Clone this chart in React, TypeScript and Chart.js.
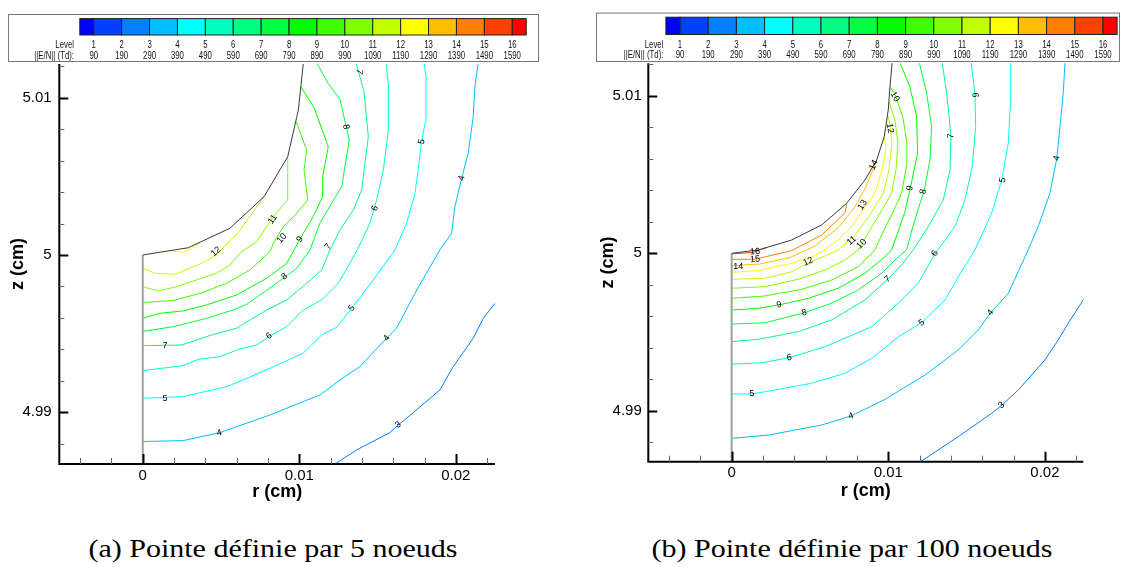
import React, { useEffect, useRef } from "react";
import { Chart, registerables } from "chart.js";
Chart.register(...registerables);

// ---------- legend ----------
const levelIds = ["1","2","3","4","5","6","7","8","9","10","11","12","13","14","15","16"];
const levelTd = ["90","190","290","390","490","590","690","790","890","990","1090","1190","1290","1390","1490","1590"];
const legendColors = ["#0000ff","#0040ff","#0080ff","#00bfff","#00ffff","#00ffbf","#00ff80","#00ff40","#00ff00","#40ff00","#80ff00","#bfff00","#ffff00","#ffbf00","#ff8000","#ff4000","#ff0000"];
const levelLineColors = ["","#0000ff","#0040ff","#0080ff","#00bfff","#00ffff","#00ffbf","#00ff80","#00ff40","#00ff00","#40ff00","#80ff00","#bfff00","#ffff00","#ffbf00","#ff8000","#ff4000"];

// ---------- axes ----------
const xLabelValues = [0, 0.01, 0.02];
const xLabelTexts = ["0", "0.01", "0.02"];
const yLabelValues = [4.99, 5, 5.01];
const yLabelTexts = ["4.99", "5", "5.01"];
const minorStep = 0.002;
const axisR = [0, 0];
const axisZ = [5.0, 4.986];

// ---------- panel (a): 5 nodes ----------
const bndAr = [0, 0.00291, 0.00557, 0.00775, 0.00926, 0.00994, 0.01026];
const bndAz = [5.0, 5.00046, 5.0017, 5.00371, 5.00625, 5.00922, 5.01223];
const a13r = [0.00165, 0.00259, 0.00302, 0.00366];
const a13z = [5.00026, 5.00017, 5.00036, 5.00078];
const a12r = [0, 0.00079, 0.00206, 0.00387, 0.00468, 0.0061, 0.00775];
const a12z = [4.99915, 4.99883, 4.99877, 4.99951, 5.0, 5.00142, 5.00371];
const a11r = [0, 0.001, 0.00217, 0.00355, 0.00472, 0.00557, 0.0062, 0.00728, 0.00834, 0.00926, 0.00926];
const a11z = [4.99798, 4.99771, 4.99798, 4.99845, 4.99883, 4.99936, 5.00011, 5.00085, 5.00244, 5.0035, 5.00625];
const a10r = [0, 0.00195, 0.00366, 0.00536, 0.00685, 0.00813, 0.00834, 0.00898, 0.00983, 0.01054, 0.0103, 0.01047, 0.00979];
const a10z = [4.99697, 4.9971, 4.99756, 4.9982, 4.99905, 5.00021, 5.00074, 5.0018, 5.00265, 5.0035, 5.00541, 5.00668, 5.0085];
const a9r = [0, 0.0011, 0.00259, 0.00408, 0.006, 0.00792, 0.0092, 0.01025, 0.01089, 0.01149, 0.01149, 0.01185, 0.01096, 0.01011];
const a9z = [4.99597, 4.99629, 4.99644, 4.99682, 4.99746, 4.99852, 4.99947, 5.00138, 5.00244, 5.00371, 5.00498, 5.00689, 5.00933, 5.0107];
const a8r = [0, 0.00195, 0.00408, 0.00578, 0.00664, 0.00855, 0.00983, 0.01068, 0.01132, 0.01206, 0.01271, 0.01319, 0.0126, 0.01185, 0.01111];
const a8z = [4.99513, 4.99544, 4.99597, 4.9965, 4.99686, 4.9982, 4.99915, 5.00032, 5.00202, 5.00329, 5.00435, 5.00732, 5.0099, 5.0109, 5.01223];
const a7r = [0, 0.00249, 0.0044, 0.006, 0.00685, 0.00792, 0.0092, 0.01047, 0.01143, 0.01196, 0.0126, 0.01345, 0.01398, 0.01441, 0.01413, 0.01362];
const a7z = [4.99423, 4.99427, 4.99491, 4.99534, 4.99586, 4.9965, 4.99714, 4.9982, 4.99905, 5.00032, 5.00159, 5.00286, 5.00414, 5.00752, 5.01039, 5.01223];
const a6r = [0, 0.00259, 0.00355, 0.00493, 0.0062, 0.00728, 0.00813, 0.0092, 0.01025, 0.01143, 0.01249, 0.01323, 0.01375, 0.01451, 0.01494, 0.01537, 0.01569, 0.01569, 0.01554];
const a6z = [4.99264, 4.99296, 4.99336, 4.99353, 4.99402, 4.99427, 4.99485, 4.99544, 4.9965, 4.99714, 4.9982, 4.99947, 5.00042, 5.00202, 5.0035, 5.00541, 5.00795, 5.01081, 5.01223];
const a5r = [0, 0.00259, 0.00536, 0.00642, 0.00813, 0.01025, 0.01143, 0.01239, 0.01335, 0.01473, 0.01611, 0.01686, 0.01739, 0.01782, 0.01803, 0.01809, 0.01796];
const a5z = [4.99088, 4.99099, 4.99162, 4.99205, 4.99279, 4.99375, 4.99491, 4.9954, 4.99661, 4.99841, 5.00032, 5.00202, 5.00392, 5.00721, 5.00838, 5.01134, 5.01223];
const a4r = [0, 0.00259, 0.00493, 0.00813, 0.01025, 0.01132, 0.0126, 0.01387, 0.01557, 0.01621, 0.0175, 0.01898, 0.01973, 0.01994, 0.02037, 0.02079, 0.02111, 0.02122, 0.02143];
const a4z = [4.98813, 4.98819, 4.9887, 4.98982, 4.99067, 4.99109, 4.99205, 4.9929, 4.9947, 4.99534, 4.99777, 5.00032, 5.00138, 5.00307, 5.00487, 5.00649, 5.0088, 5.01071, 5.01223];
const a3r = [0.01205, 0.01367, 0.01579, 0.01632, 0.01686, 0.01898, 0.01983, 0.02111, 0.02175, 0.0225, 0.0227];
const a3z = [4.98655, 4.9876, 4.9887, 4.98919, 4.98961, 4.99141, 4.9929, 4.9947, 4.99597, 4.99693, 4.9973];
const aLabT = ["12","11","10","9","7","8","7","5","4","6","7","5","4","6","8","5","4","3"];
const aLabR = [0.00468, 0.00829, 0.00888, 0.01004, 0.01185, 0.01298, 0.01383, 0.01782, 0.02037, 0.01483, 0.00142, 0.00142, 0.00489, 0.00808, 0.00904, 0.01335, 0.01558, 0.01632];
const aLabZ = [5.00021, 5.00227, 5.00106, 5.001, 5.00053, 5.00816, 5.01166, 5.00721, 5.00488, 5.00297, 4.99423, 4.99088, 4.98868, 4.99485, 4.99862, 4.99661, 4.9947, 4.98919];
const aLabA = [-40, -55, -50, -55, -55, 85, 100, -80, -75, -70, 0, 0, -15, -35, -35, -50, -50, -35];

// ---------- panel (b): 100 nodes ----------
const bndBr = [0, 0.0017, 0.00383, 0.00575, 0.00734, 0.00851, 0.00926, 0.00974, 0.01, 0.01011, 0.01025];
const bndBz = [5.0, 5.00021, 5.00084, 5.0018, 5.00317, 5.00465, 5.00592, 5.0074, 5.0091, 5.01058, 5.01217];
const b16r = [0, 0.0013, 0.0022];
const b16z = [4.99996, 5.00005, 5.00035];
const b15r = [0, 0.00149, 0.00383, 0.00575, 0.00723, 0.00736];
const b15z = [4.99962, 4.99962, 5.00017, 5.00116, 5.00256, 5.00313];
const b14r = [0, 0.00181, 0.00372, 0.00532, 0.00679, 0.00787, 0.00857, 0.00896, 0.00924];
const b14z = [4.99921, 4.99932, 4.99973, 5.00046, 5.00161, 5.00294, 5.00421, 5.00516, 5.00586];
const b13r = [0, 0.0017, 0.00383, 0.00511, 0.00596, 0.00691, 0.00766, 0.0083, 0.00915, 0.0096, 0.00985, 0.00975];
const b13z = [4.99879, 4.9989, 4.99937, 4.99978, 5.00021, 5.00097, 5.00169, 5.00262, 5.00381, 5.00529, 5.00656, 5.00738];
const b12r = [0, 0.00213, 0.00383, 0.00489, 0.00596, 0.00681, 0.00787, 0.0087, 0.00968, 0.01004, 0.01023, 0.01011, 0.00998];
const b12z = [4.99835, 4.99841, 4.99883, 4.9994, 4.99983, 5.00021, 5.00116, 5.00224, 5.00381, 5.00529, 5.007, 5.00815, 5.00878];
const b11r = [0, 0.00213, 0.00425, 0.00596, 0.00723, 0.00808, 0.00883, 0.0096, 0.01021, 0.01049, 0.01062, 0.01042, 0.01017, 0.01007];
const b11z = [4.99778, 4.99788, 4.99835, 4.99894, 4.99957, 5.00021, 5.00148, 5.00275, 5.00381, 5.00529, 5.007, 5.00846, 5.00923, 5.00961];
const b10r = [0, 0.00213, 0.00447, 0.00638, 0.00808, 0.00915, 0.00966, 0.0103, 0.01085, 0.01117, 0.01119, 0.01094, 0.01047, 0.01011];
const b10z = [4.99714, 4.99729, 4.99771, 4.9983, 4.99915, 5.00021, 5.00135, 5.00262, 5.00381, 5.00561, 5.007, 5.00859, 5.00999, 5.01058];
const b9r = [0, 0.0017, 0.00302, 0.00489, 0.00681, 0.00851, 0.00979, 0.01021, 0.01062, 0.01106, 0.01138, 0.01187, 0.01181, 0.01138, 0.01074];
const b9z = [4.9964, 4.99651, 4.99672, 4.99714, 4.99778, 4.99873, 4.99978, 5.00021, 5.00135, 5.00262, 5.00402, 5.00635, 5.00867, 5.01058, 5.0121];
const b8r = [0, 0.00213, 0.00464, 0.00638, 0.00808, 0.00958, 0.01064, 0.01117, 0.01151, 0.01189, 0.0123, 0.01266, 0.01277, 0.01245, 0.01198];
const b8z = [4.99551, 4.99559, 4.99623, 4.99683, 4.99767, 4.99873, 4.99978, 5.00021, 5.00148, 5.00275, 5.00402, 5.00592, 5.00804, 5.01016, 5.0121];
const b7r = [0, 0.0017, 0.00425, 0.00638, 0.00851, 0.00996, 0.01085, 0.01159, 0.01255, 0.01351, 0.01394, 0.014, 0.01373, 0.01344];
const b7z = [4.99439, 4.99454, 4.99502, 4.99577, 4.99703, 4.99835, 4.99926, 5.00021, 5.00169, 5.00338, 5.00529, 5.00745, 5.01016, 5.0121];
const b6r = [0, 0.00192, 0.00368, 0.00596, 0.00894, 0.01064, 0.01191, 0.01298, 0.01425, 0.01489, 0.01536, 0.01558, 0.01553, 0.01528];
const b6z = [4.99297, 4.99305, 4.99337, 4.99407, 4.99534, 4.99683, 4.9981, 4.99996, 5.00169, 5.00338, 5.0055, 5.00804, 5.01016, 5.0121];
const b5r = [0, 0.00128, 0.00276, 0.00511, 0.00723, 0.00894, 0.01064, 0.01213, 0.01362, 0.01447, 0.01553, 0.0166, 0.01724, 0.01766, 0.01783, 0.01781];
const b5z = [4.99107, 4.99107, 4.99132, 4.99175, 4.99238, 4.99333, 4.9947, 4.99559, 4.99703, 4.99851, 5.00021, 5.00254, 5.00465, 5.00698, 5.01016, 5.0121];
const b4r = [0, 0.00234, 0.00575, 0.00762, 0.00979, 0.01234, 0.01447, 0.01574, 0.01653, 0.01766, 0.01893, 0.01957, 0.02032, 0.02075, 0.02096, 0.02117, 0.02128];
const b4z = [4.98825, 4.98846, 4.9891, 4.98967, 4.99073, 4.99227, 4.99386, 4.99513, 4.99623, 4.99746, 5.00021, 5.00169, 5.00381, 5.00597, 5.00804, 5.01016, 5.0121];
const b3r = [0.01195, 0.01447, 0.0166, 0.01724, 0.0183, 0.02, 0.02085, 0.02149, 0.02244, 0.0227];
const b3z = [4.9867, 4.98836, 4.98984, 4.99035, 4.99132, 4.99323, 4.9945, 4.99556, 4.99703, 4.9974];
const bLabT = ["16","15","14","12","14","13","12","10","11","10","9","8","7","6","5","4","6","9","8","7","6","5","5","4","4","3"];
const bLabR = [0.00149, 0.00149, 0.00042, 0.00489, 0.00908, 0.00836, 0.01011, 0.01042, 0.00766, 0.0083, 0.01138, 0.01223, 0.014, 0.01553, 0.0173, 0.02075, 0.01298, 0.00302, 0.00463, 0.00996, 0.00368, 0.00128, 0.01213, 0.00762, 0.01653, 0.01724];
const bLabZ = [5.0001, 4.99962, 4.99919, 4.99947, 5.00561, 5.00307, 5.00794, 5.00994, 5.0008, 5.00059, 5.00413, 5.00391, 5.00745, 5.01005, 5.00465, 5.00603, 5.0, 4.99672, 4.99623, 4.99835, 4.99337, 4.99107, 4.99559, 4.98967, 4.99623, 4.99035];
const bLabA = [-5, -5, 0, -25, -65, -55, 80, 60, -40, -45, -80, -80, -85, 95, -80, -75, -60, -10, -15, -40, -10, 0, -35, -20, -50, -40];

const contoursA = [
  { level: 3, r: a3r, z: a3z }, { level: 4, r: a4r, z: a4z }, { level: 5, r: a5r, z: a5z },
  { level: 6, r: a6r, z: a6z }, { level: 7, r: a7r, z: a7z }, { level: 8, r: a8r, z: a8z },
  { level: 9, r: a9r, z: a9z }, { level: 10, r: a10r, z: a10z }, { level: 11, r: a11r, z: a11z },
  { level: 12, r: a12r, z: a12z }, { level: 13, r: a13r, z: a13z },
];
const contoursB = [
  { level: 3, r: b3r, z: b3z }, { level: 4, r: b4r, z: b4z }, { level: 5, r: b5r, z: b5z },
  { level: 6, r: b6r, z: b6z }, { level: 7, r: b7r, z: b7z }, { level: 8, r: b8r, z: b8z },
  { level: 9, r: b9r, z: b9z }, { level: 10, r: b10r, z: b10z }, { level: 11, r: b11r, z: b11z },
  { level: 12, r: b12r, z: b12z }, { level: 13, r: b13r, z: b13z }, { level: 14, r: b14r, z: b14z },
  { level: 15, r: b15r, z: b15z }, { level: 16, r: b16r, z: b16z },
];

const FONT = "Liberation Sans";

const panelA = {
  left: 0, width: 560, height: 515,
  pad: { left: 0, right: 65, top: 64, bottom: 0 },
  yWidth: 59.3, xHeight: 51,
  xMin: -0.00533, xMax: 0.0225, yMin: 4.9867, yMax: 5.01215,
  yTickPad: 7.6, xTickPad: 2.5, xTitlePad: 11.7, yTitlePad: 7.5,
  legend: { x0: 8, x1: 538, y0: 14, y1: 61, barX0: 79.8, step: 27.9, barY0: 18.6, barY1: 35, textRight: 74, levelY: 45.7, enY: 56 },
  bndR: bndAr, bndZ: bndAz, contours: contoursA,
  labT: aLabT, labR: aLabR, labZ: aLabZ, labA: aLabA,
};
const panelB = {
  left: 560, width: 563, height: 515,
  pad: { left: 0, right: 39.7, top: 63.3, bottom: 0 },
  yWidth: 88.3, xHeight: 53.3,
  xMin: -0.00532, xMax: 0.02245, yMin: 4.98677, yMax: 5.01206,
  yTickPad: 6.5, xTickPad: 2, xTitlePad: 13.4, yTitlePad: 37.7,
  legend: { x0: 36, x1: 559, y0: 12.6, y1: 61, barX0: 105.9, step: 28.2, barY0: 17.2, barY1: 34.5, textRight: 103.4, levelY: 44.9, enY: 55.7 },
  bndR: bndBr, bndZ: bndBz, contours: contoursB,
  labT: bLabT, labR: bLabR, labZ: bLabZ, labA: bLabA,
};

const near = (a: number, b: number) => Math.abs(a - b) < 1e-9;

function framePlugin(p: any) {
  return {
    id: "frame",
    afterDatasetsDraw(chart: any) {
      const { ctx, chartArea: ca, scales } = chart;
      const xs = scales.x, ys = scales.y;
      ctx.save();
      // contour labels
      ctx.font = `9px "${FONT}"`;
      ctx.fillStyle = "#000";
      ctx.textAlign = "center";
      ctx.textBaseline = "middle";
      p.labT.forEach((t: string, i: number) => {
        const px = xs.getPixelForValue(p.labR[i]);
        const py = ys.getPixelForValue(p.labZ[i]);
        ctx.save();
        ctx.translate(px, py);
        ctx.rotate((p.labA[i] * Math.PI) / 180);
        ctx.fillText(t, 0, 0);
        ctx.restore();
      });
      // axis lines
      ctx.strokeStyle = "#000";
      ctx.lineWidth = 2;
      ctx.beginPath();
      ctx.moveTo(ca.left, ca.top);
      ctx.lineTo(ca.left, ca.bottom);
      ctx.lineTo(ca.right, ca.bottom);
      ctx.stroke();
      // x ticks (inward)
      xs.ticks.forEach((t: any) => {
        const major = xLabelValues.some((v) => near(v, t.value));
        const px = Math.round(xs.getPixelForValue(t.value)) + 0.5;
        ctx.lineWidth = major ? 2 : 1;
        ctx.strokeStyle = major ? "#000" : "#666";
        ctx.beginPath();
        ctx.moveTo(px, ca.bottom);
        ctx.lineTo(px, ca.bottom - (major ? 10 : 6));
        ctx.stroke();
      });
      ys.ticks.forEach((t: any) => {
        const major = yLabelValues.some((v) => near(v, t.value));
        const py = Math.round(ys.getPixelForValue(t.value)) + 0.5;
        ctx.lineWidth = major ? 2 : 1;
        ctx.strokeStyle = major ? "#000" : "#666";
        ctx.beginPath();
        ctx.moveTo(ca.left, py);
        ctx.lineTo(ca.left + (major ? 9 : 5), py);
        ctx.stroke();
      });
      ctx.restore();
    },
    afterDraw(chart: any) {
      const { ctx } = chart;
      const L = p.legend;
      ctx.save();
      ctx.strokeStyle = "#777";
      ctx.lineWidth = 1;
      ctx.strokeRect(L.x0 + 0.5, L.y0 + 0.5, L.x1 - L.x0, L.y1 - L.y0);
      let xx = L.barX0;
      legendColors.forEach((c, i) => {
        const w = i === 0 || i === legendColors.length - 1 ? L.step / 2 : L.step;
        ctx.fillStyle = c;
        ctx.fillRect(xx, L.barY0, w, L.barY1 - L.barY0);
        ctx.strokeStyle = "#222";
        ctx.strokeRect(xx, L.barY0, w, L.barY1 - L.barY0);
        xx += w;
      });
      const drawT = (t: string, x: number, y: number, align: string) => {
        ctx.save();
        ctx.translate(x, y);
        ctx.scale(0.78, 1);
        ctx.textAlign = align;
        ctx.fillText(t, 0, 0);
        ctx.restore();
      };
      ctx.fillStyle = "#111";
      ctx.font = `10px "${FONT}"`;
      ctx.textBaseline = "middle";
      drawT("Level", L.textRight, L.levelY, "right");
      drawT("||E/N|| (Td):", L.textRight, L.enY, "right");
      levelIds.forEach((t, i) => {
        const cx = L.barX0 + L.step / 2 + i * L.step;
        drawT(t, cx, L.levelY, "center");
        drawT(levelTd[i], cx, L.enY, "center");
      });
      ctx.restore();
    },
  };
}

function buildConfig(p: any): any {
  const line = (r: number[], z: number[], color: string, width: number) => ({
    data: r.map((v, i) => ({ x: v, y: z[i] })),
    showLine: true,
    borderColor: color,
    backgroundColor: color,
    borderWidth: width,
    pointRadius: 0,
    fill: false,
    tension: 0,
  });
  const datasets: any[] = [];
  datasets.push(line(p.bndR, p.bndZ, "#3a3a3a", 1));
  datasets.push(line(axisR, axisZ, "#a0a0a0", 2));
  p.contours.forEach((c: any) => datasets.push(line(c.r, c.z, levelLineColors[c.level], 1)));
  const tickFont = { family: FONT, size: 15 };
  const titleFont = { family: FONT, size: 18, weight: "bold" };
  return {
    type: "scatter",
    data: { datasets },
    options: {
      responsive: false,
      animation: false,
      events: [],
      layout: { padding: p.pad },
      plugins: { legend: { display: false }, tooltip: { enabled: false } },
      scales: {
        x: {
          type: "linear",
          position: "bottom",
          min: p.xMin,
          max: p.xMax,
          grid: { display: false, drawTicks: false },
          border: { display: false },
          ticks: {
            stepSize: minorStep,
            autoSkip: false,
            maxRotation: 0,
            minRotation: 0,
            includeBounds: false,
            maxTicksLimit: 1000,
            padding: p.xTickPad,
            color: "#000",
            font: tickFont,
            callback: (v: any) => {
              const i = xLabelValues.findIndex((t) => near(t, Number(v)));
              return i >= 0 ? xLabelTexts[i] : "";
            },
          },
          title: { display: true, text: "r (cm)", color: "#000", font: titleFont, padding: { top: 0, bottom: p.xTitlePad } },
          afterFit: (s: any) => { s.height = p.xHeight; },
        },
        y: {
          type: "linear",
          position: "left",
          min: p.yMin,
          max: p.yMax,
          grid: { display: false, drawTicks: false },
          border: { display: false },
          ticks: {
            stepSize: minorStep,
            autoSkip: false,
            includeBounds: false,
            maxTicksLimit: 1000,
            padding: p.yTickPad,
            color: "#000",
            font: tickFont,
            callback: (v: any) => {
              const i = yLabelValues.findIndex((t) => near(t, Number(v)));
              return i >= 0 ? yLabelTexts[i] : "";
            },
          },
          title: { display: true, text: "z (cm)", color: "#000", font: titleFont, padding: { top: p.yTitlePad, bottom: 0 } },
          afterFit: (s: any) => { s.width = p.yWidth; },
        },
      },
    },
    plugins: [framePlugin(p)],
  };
}

function Panel({ p }: { p: any }) {
  const ref = useRef<HTMLCanvasElement>(null);
  useEffect(() => {
    const chart = new Chart(ref.current as HTMLCanvasElement, buildConfig(p));
    return () => chart.destroy();
  }, []);
  return (
    <canvas
      ref={ref}
      width={p.width}
      height={p.height}
      style={{ position: "absolute", left: p.left, top: 0, width: p.width, height: p.height }}
    />
  );
}

const captionStyle = (cx: number): React.CSSProperties => ({
  position: "absolute",
  left: cx - 300,
  width: 600,
  top: 534,
  textAlign: "center",
  fontFamily: '"Liberation Serif", serif',
  fontSize: 25,
  lineHeight: "30px",
  color: "#000",
  whiteSpace: "nowrap",
  transform: "scaleX(1.2)",
});

export default function App() {
  return (
    <div style={{ position: "fixed", left: 0, top: 0, width: 1123, height: 567, background: "#fff", overflow: "hidden" }}>
      <Panel p={panelA} />
      <Panel p={panelB} />
      <div style={captionStyle(273)}>(a) Pointe définie par 5 noeuds</div>
      <div style={captionStyle(852)}>(b) Pointe définie par 100 noeuds</div>
    </div>
  );
}
